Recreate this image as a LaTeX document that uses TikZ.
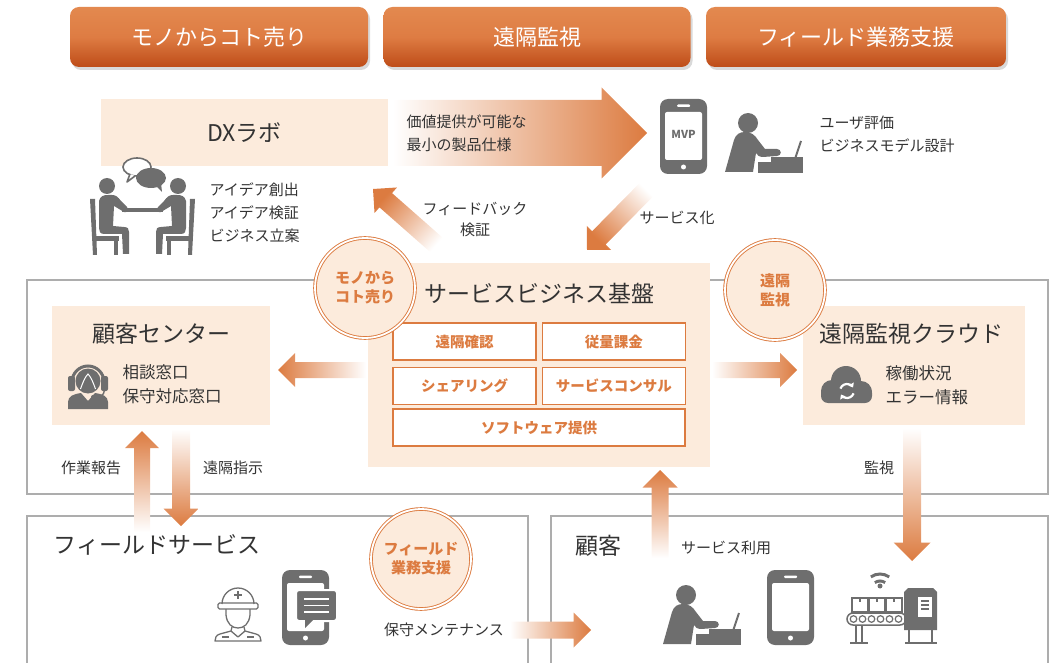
\documentclass[tikz,border=0pt]{standalone}
\usepackage{fontspec}
\setmainfont{Noto Sans CJK JP}
\usetikzlibrary{positioning, shadows, calc, arrows.meta}

\definecolor{accent}{HTML}{DC7B40}
\definecolor{bannertop}{HTML}{E3894F}
\definecolor{bannermid}{HTML}{DE7C43}
\definecolor{bannerbot}{HTML}{BE4C18}
\definecolor{peach}{HTML}{FCEBDC}
\definecolor{ink}{HTML}{333333}
\definecolor{icongray}{HTML}{6E6E6E}
\definecolor{framegray}{HTML}{ADADAD}

% fat shaded arrow from tail #1 to tip #2: #3 half shaft, #4 half head
\newcommand{\flow}[4]{%
  \coordinate (#1-base) at ($(#2)!#4pt!(#1)$);
  \path let \p1=($(#2)-(#1)$), \n1={atan2(\y1,\x1)-90} in \pgfextra{\xdef\flowangle{\n1}};
  \shade[flowarrow, shading angle=\flowangle]
    ($(#1)!#3pt!90:(#2)$) -- ($(#1-base)!#3pt!90:(#2)$) -- ($(#1-base)!#4pt!90:(#2)$)
    -- (#2) -- ($(#1-base)!#4pt!-90:(#2)$) -- ($(#1-base)!#3pt!-90:(#2)$)
    -- ($(#1)!#3pt!-90:(#2)$) -- cycle;}

\tikzset{
  banner/.style={rounded corners=9pt, top color=bannertop, bottom color=bannerbot,
    middle color=bannermid, text=white, minimum height=60pt,
    font=\fontsize{22}{26}\selectfont,
    drop shadow={opacity=0.3, shadow xshift=2pt, shadow yshift=-3pt}},
  panel/.style={fill=peach, inner sep=0pt},
  title/.style={text=ink, font=\fontsize{23}{27}\selectfont},
  body/.style={text=ink, align=left, font=\fontsize{15}{23}\selectfont},
  bigbody/.style={text=ink, align=left, font=\fontsize{16.5}{24}\selectfont},
  service/.style={draw=accent, line width=1.3pt, fill=white, text=accent,
    minimum width=143pt, minimum height=37pt, inner sep=0pt,
    font=\bfseries\fontsize{14.5}{17}\selectfont},
  badge/.style={circle, draw=accent, line width=0.9pt, double=white,
    double distance=1.8pt, fill=peach, minimum size=100pt, inner sep=0pt,
    align=center, text=accent, font=\bfseries\fontsize{15}{19}\selectfont},
  frame/.style={draw=framegray, line width=1.5pt},
  flowarrow/.style={top color=accent, bottom color=white},
  pics/laptopuser/.style={code={
    \fill[icongray] (23,10) circle (10);
    \fill[icongray] (0,59) -- (9,27) .. controls (11,21) and (15,19) .. (20,19)
      .. controls (26,19) and (30,22) .. (33,27) -- (40,36) -- (52,36)
      .. controls (57,36) and (57,43) .. (52,43) -- (38,44)
      .. controls (34,44) and (32,42) .. (31,40) -- (28,59) -- cycle;
    \fill[icongray] (33,49) rectangle (78,60);
    \fill[icongray] (46,44) rectangle (78,49);
    \draw[icongray, line width=2pt] (70,46) -- (76,28);
  }},
  pics/handset/.style={code={
    \fill[icongray, rounded corners=8pt] (0,0) rectangle (47,75);
    \fill[white, rounded corners=2pt] (5,13) rectangle (42,61);
    \fill[white, rounded corners=1pt] (17,5.5) rectangle (30,8);
    \fill[white] (23.5,68) circle (2.5);
  }},
}

\begin{document}
\begin{tikzpicture}[x=1pt, y=-1pt]
\useasboundingbox (0,0) rectangle (1055,663);

% Theme banners
\node[banner, minimum width=298pt] (bn-mono) at (219,37) {モノからコト売り};
\node[banner, minimum width=307pt] (bn-remote) at (537,37) {遠隔監視};
\node[banner, minimum width=300pt] (bn-field) at (856,37) {フィールド業務支援};

% Frames
\draw[frame] (27,280) rectangle (1048,494);
\draw[frame] (27,670) -- (27,516) -- (528,516) -- (528,670);
\draw[frame] (551,670) -- (551,516) -- (1048,516) -- (1048,670);

% Panels
\node[panel, minimum width=287pt, minimum height=67pt, text=ink,
  font=\fontsize{23}{27}\selectfont] (dxlab) at (244.5,132.5) {DXラボ};
\node[panel, minimum width=218pt, minimum height=119pt] (ccenter) at (161,365.5) {};
\node[panel, minimum width=342pt, minimum height=204pt] (platform) at (539,365) {};
\node[panel, minimum width=222pt, minimum height=119pt] (cloud) at (914,365.5) {};

% Services offered by the platform
\node[service] (svc-check) at (464.5,341.5) {遠隔確認};
\node[service, right=5pt of svc-check] (svc-meter) {従量課金};
\node[service, below=6pt of svc-check] (svc-share) {シェアリング};
\node[service, right=5pt of svc-share] (svc-consult) {サービスコンサル};
\node[service, minimum width=292pt] (svc-soft) at (539,427.5) {ソフトウェア提供};

% Titles
\node[title] (platform-title) at (539,293) {サービスビジネス基盤};
\node[title] (ccenter-title) at (161,334) {顧客センター};
\node[title] (cloud-title) at (911,334) {遠隔監視クラウド};
\node[title, anchor=west] (field-title) at (50,545) {フィールドサービス};
\node[title, anchor=west] (cust-title) at (572,546) {顧客};

% Flow arrows
\coordinate (spec-tail) at (393,133);  \coordinate (spec-tip) at (647,133);
\coordinate (fb-tail) at (440,248);    \coordinate (fb-tip) at (373,189);
\coordinate (svz-tail) at (650,186);   \coordinate (svz-tip) at (587,250);
\coordinate (cc-tail) at (366,370);    \coordinate (cc-tip) at (278,370);
\coordinate (cl-tail) at (712,370);    \coordinate (cl-tip) at (797,370);
\coordinate (rep-tail) at (142,532);   \coordinate (rep-tip) at (142,431);
\coordinate (ins-tail) at (181,429);   \coordinate (ins-tip) at (181,526);
\coordinate (use-tail) at (660,558);   \coordinate (use-tip) at (660,470);
\coordinate (mon-tail) at (912,428);   \coordinate (mon-tip) at (912,561);
\coordinate (mnt-tail) at (510,630);   \coordinate (mnt-tip) at (591,630);
\flow{spec-tail}{spec-tip}{33}{45.5}
\flow{fb-tail}{fb-tip}{9.5}{17}
\flow{svz-tail}{svz-tip}{9.5}{17}
\flow{cc-tail}{cc-tip}{8}{17}
\flow{cl-tail}{cl-tip}{8}{17}
\flow{rep-tail}{rep-tip}{8}{17}
\flow{ins-tail}{ins-tip}{9}{17.5}
\flow{use-tail}{use-tip}{8.5}{17.5}
\flow{mon-tail}{mon-tip}{9}{18.5}
\flow{mnt-tail}{mnt-tip}{8.5}{17.5}

% Badges
\node[badge] (bd-mono) at (365,288) {モノから\\コト売り};
\node[badge] (bd-remote) at (775,290) {遠隔\\監視};
\node[badge] (bd-field) at (421,559) {フィールド\\業務支援};

% Texts
\node[body, anchor=west] (spec-text) at (403,133) {価値提供が可能な\\最小の製品仕様};
\node[body, anchor=west] (idea-text) at (206,213) {アイデア創出\\アイデア検証\\ビジネス立案};
\node[body, anchor=west] (eval-text) at (816,134) {ユーザ評価\\ビジネスモデル設計};
\node[body, align=center, font=\fontsize{15}{21}\selectfont] (fb-text) at (475,219) {フィードバック\\検証};
\node[body] (svz-text) at (677,218) {サービス化};
\node[bigbody, anchor=west] (cc-text) at (119,384) {相談窓口\\保守対応窓口};
\node[bigbody, anchor=west] (cl-text) at (882,385) {稼働状況\\エラー情報};
\node[body] (rep-text) at (91,468) {作業報告};
\node[body] (ins-text) at (233,468) {遠隔指示};
\node[body] (mon-text) at (879,468) {監視};
\node[body] (use-text) at (726,548) {サービス利用};
\node[body] (mnt-text) at (444,630) {保守メンテナンス};

% Meeting icon
\begin{scope}[icongray]
  \foreach \s/\dx in {1/0, -1/285} {
    \begin{scope}[shift={(\dx,0)}, xscale=\s]
      \fill (90,199) -- (95,199) -- (97,255) -- (93,255) -- cycle;
      \fill (93,236) rectangle (119,241);
      \fill (114,241) rectangle (118,255);
      \fill (107,186) circle (8);
      \fill (99,201) .. controls (100,196) and (104,195) .. (108,195) -- (112,195)
        .. controls (116,195) and (118,197) .. (121,201) -- (127,207)
        .. controls (129,210) and (127,213) .. (124,212) -- (114,206) -- (113,226)
        -- (124,227) .. controls (128,227) and (129,229) .. (129,232) -- (129,254)
        -- (123,254) -- (122,234) -- (104,234) .. controls (100,234) and (99,231) .. (99,228) -- cycle;
    \end{scope}
  }
  \fill (122,208) rectangle (163,212.5);
  \draw[line width=1.6pt, fill=white] (137,167) ellipse [x radius=14, y radius=9];
  \draw[line width=1.6pt, fill=white, line join=round] (130,174) -- (127,182) -- (135,176);
  \fill (151,178) ellipse [x radius=15, y radius=10];
  \fill (155,185) -- (162,192) -- (161,183) -- cycle;
\end{scope}

% Prototype and evaluation
\pic at (660,99) {handset};
\node[text=icongray, font=\bfseries\fontsize{11}{12}\selectfont] (mvp) at (683.5,134) {MVP};
\pic at (725,113) {laptopuser};

% Operator with headset
\begin{scope}[icongray]
  \draw[line width=3pt] (72,382) arc[start angle=180, end angle=360, radius=16];
  \fill[rounded corners=2pt] (68,376) rectangle (75,391);
  \fill[rounded corners=2pt] (101,376) rectangle (108,391);
  \fill (88,381) circle (12.5);
  \draw[white, line width=1pt] (80.5,389) .. controls (83,382) and (85,377) .. (88,374)
    .. controls (91,377) and (93,382) .. (95.5,389);
  \draw[line width=1.4pt] (104.5,390) .. controls (104,396) and (100,397) .. (94,397);
  \fill (93,397) circle (2);
  \fill (68,409) -- (68,402) .. controls (68,396) and (74,394) .. (81,393) -- (88,401)
    -- (95,393) .. controls (102,394) and (108,396) .. (108,402) -- (108,409) -- cycle;
\end{scope}

% Cloud with refresh arrows
\begin{scope}[icongray]
  \fill (846,381) circle (15);
  \fill (832,391) circle (11);
  \fill (861,392) circle (11);
  \fill[rounded corners=7pt] (821,386) rectangle (872,403);
  \draw[white, line width=2.2pt, -{Triangle[length=4pt, width=6pt]}]
    (847,391) ++(200:7) arc[start angle=200, end angle=330, radius=7];
  \draw[white, line width=2.2pt, -{Triangle[length=4pt, width=6pt]}]
    (847,391) ++(20:7) arc[start angle=20, end angle=150, radius=7];
\end{scope}

% Field worker
\begin{scope}[draw=icongray, line width=1.3pt, line join=round]
  \draw (222,604) arc[start angle=180, end angle=360, radius=16];
  \draw[rounded corners=1.5pt] (218,603) rectangle (258,609);
  \draw[line width=1.6pt] (238,591) -- (238,599) (234,595) -- (242,595);
  \draw (226,609) -- (226,615) .. controls (227,624) and (232,628) .. (238,628)
    .. controls (244,628) and (249,624) .. (250,615) -- (250,609);
  \draw (232,627) -- (231,631) -- (220,634) .. controls (216,635) and (215,638) .. (215,641)
    -- (261,641) .. controls (261,638) and (260,635) .. (256,634) -- (245,631) -- (244,627);
  \draw (231,631) -- (238,637) -- (245,631);
  \draw (222,637) -- (229,637) (247,637) -- (254,637);
\end{scope}

% Handset with message
\pic at (282,570) {handset};
\begin{scope}[icongray]
  \fill[draw=white, line width=2pt, rounded corners=3pt] (296,590) rectangle (337,621);
  \fill (305,620) -- (305,628) -- (313,620) -- cycle;
  \draw[white, line width=1.6pt] (304,599) -- (329,599) (304,605.5) -- (329,605.5) (304,612) -- (329,612);
\end{scope}

% Customer side
\pic at (663,585) {laptopuser};
\pic at (767,570) {handset};
\begin{scope}[icongray]
  % wireless
  \fill (880,586) circle (2.5);
  \draw[line width=3pt] (880,590) ++(235:9) arc[start angle=235, end angle=305, radius=9];
  \draw[line width=3pt] (880,590) ++(235:16) arc[start angle=235, end angle=305, radius=16];
  % conveyor with boxes
  \foreach \x in {852,869,886} {
    \draw[line width=1.3pt] (\x,598) rectangle ++(16,14);
    \draw[line width=1.3pt] (\x+8,598) -- ++(0,4);
  }
  \draw[line width=1.5pt, rounded corners=6pt] (847,613) rectangle (906,625);
  \foreach \i in {0,...,5}
    \draw[line width=1.2pt] (853.5+9*\i,619) circle (3.3);
  \draw[line width=1.5pt] (856,625) -- (856,643) (862,625) -- (862,643) (850,643) -- (868,643);
  % machine
  \fill (904,592) -- (908,588) -- (933,588) -- (937,592) -- (937,630) -- (904,630) -- cycle;
  \fill[white] (918,597) rectangle (932,617);
  \draw[line width=1.2pt] (921,601) -- (929,601) (921,605) -- (929,605) (921,609) -- (929,609);
  \draw[line width=1.5pt] (909,630) -- (909,643) (932,630) -- (932,643) (905,643) -- (937,643);
\end{scope}

\end{tikzpicture}
\end{document}
